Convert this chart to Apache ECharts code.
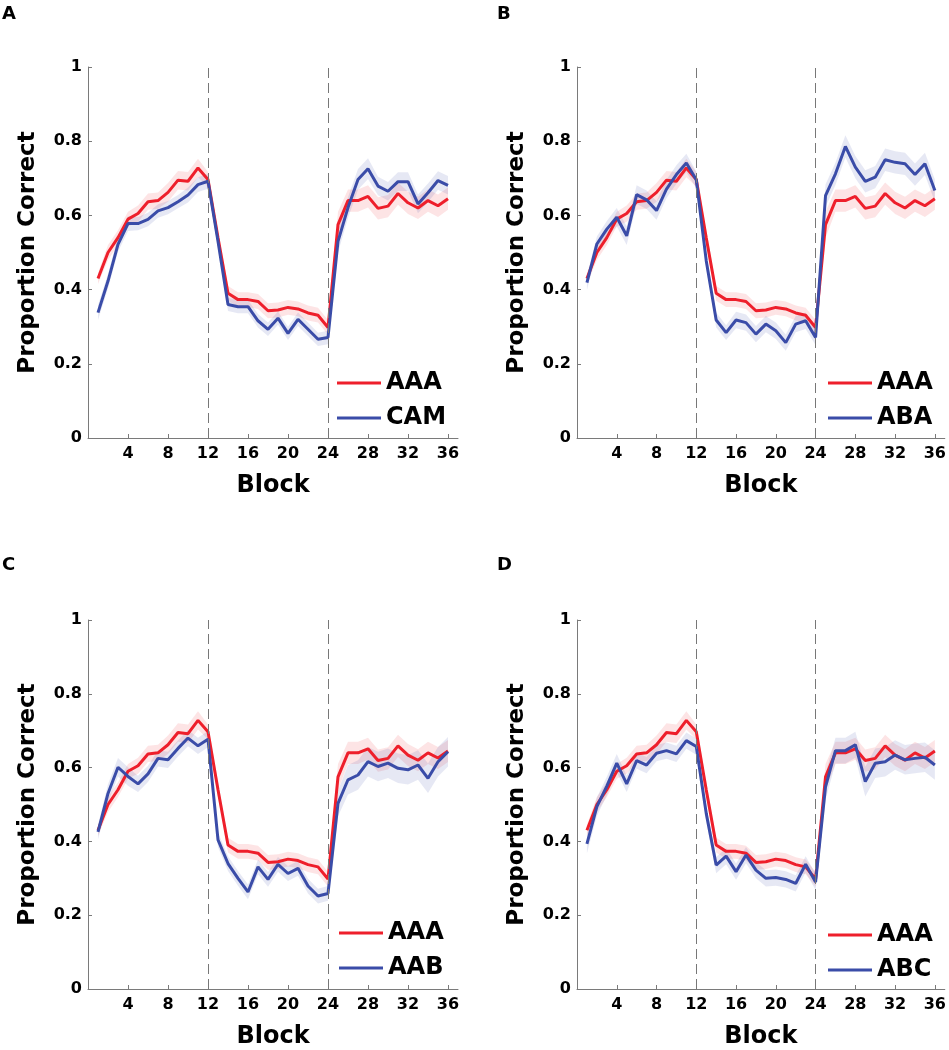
<!DOCTYPE html>
<html>
<head>
<meta charset="utf-8">
<script src="https://cdn.jsdelivr.net/npm/echarts@6/dist/echarts.min.js"></script>
<style>html,body{margin:0;padding:0;background:#fff}#c{width:949px;height:1050px}</style>
</head>
<body>
<div id="c"></div>
<script>
// ---------------- data ----------------
const blocks = [1,2,3,4,5,6,7,8,9,10,11,12,13,14,15,16,17,18,19,20,21,22,23,24,25,26,27,28,29,30,31,32,33,34,35,36];
const xTickLabels = ['4','8','12','16','20','24','28','32','36'];
const phaseBoundaries = [12, 24];

const AAA = [0.43,0.50,0.54,0.59,0.605,0.637,0.64,0.662,0.695,0.692,0.728,0.697,
             0.54,0.39,0.373,0.373,0.368,0.343,0.345,0.352,0.348,0.337,0.331,0.298,
             0.575,0.64,0.64,0.651,0.619,0.625,0.659,0.634,0.62,0.64,0.626,0.645];
const AAA_SE = [0.015,0.02,0.02,0.02,0.022,0.022,0.022,0.025,0.025,0.025,0.025,0.02,
                0.02,0.02,0.02,0.02,0.02,0.02,0.02,0.02,0.02,0.02,0.02,0.02,
                0.035,0.03,0.03,0.03,0.03,0.03,0.03,0.03,0.03,0.03,0.03,0.03];

const CAM = [0.338,0.423,0.522,0.578,0.578,0.589,0.612,0.621,0.637,0.655,0.683,0.692,
             0.53,0.36,0.354,0.354,0.316,0.293,0.323,0.282,0.32,0.293,0.266,0.271,
             0.53,0.621,0.697,0.726,0.679,0.665,0.691,0.691,0.631,0.661,0.694,0.681];
const CAM_SE = [0.02,0.02,0.02,0.02,0.018,0.018,0.018,0.018,0.018,0.02,0.02,0.02,
                0.02,0.018,0.018,0.018,0.018,0.018,0.018,0.018,0.018,0.018,0.018,0.018,
                0.03,0.028,0.028,0.028,0.025,0.025,0.025,0.025,0.025,0.025,0.025,0.025];

const ABA = [0.419,0.523,0.563,0.595,0.545,0.656,0.642,0.613,0.671,0.71,0.741,0.696,
             0.478,0.318,0.284,0.318,0.311,0.28,0.307,0.289,0.257,0.307,0.316,0.271,
             0.653,0.712,0.786,0.73,0.692,0.703,0.75,0.743,0.739,0.71,0.739,0.667];
const ABA_SE = [0.02,0.02,0.022,0.025,0.025,0.025,0.025,0.025,0.025,0.025,0.025,0.022,
                0.02,0.02,0.02,0.022,0.022,0.022,0.022,0.022,0.022,0.022,0.022,0.02,
                0.03,0.03,0.03,0.03,0.03,0.03,0.03,0.03,0.03,0.03,0.03,0.03];

const AAB = [0.426,0.53,0.601,0.576,0.556,0.583,0.625,0.621,0.652,0.68,0.659,0.677,
             0.404,0.34,0.30,0.263,0.331,0.297,0.338,0.313,0.327,0.279,0.252,0.259,
             0.503,0.567,0.58,0.616,0.603,0.612,0.598,0.594,0.607,0.571,0.616,0.643];
const AAB_SE = [0.02,0.025,0.025,0.025,0.022,0.022,0.022,0.022,0.022,0.022,0.022,0.022,
                0.02,0.02,0.02,0.02,0.02,0.02,0.02,0.02,0.02,0.02,0.02,0.02,
                0.035,0.04,0.04,0.04,0.04,0.04,0.04,0.04,0.04,0.04,0.04,0.04];

const ABC = [0.393,0.494,0.55,0.612,0.556,0.619,0.607,0.639,0.646,0.637,0.673,0.657,
             0.476,0.336,0.36,0.318,0.363,0.322,0.30,0.302,0.297,0.286,0.338,0.29,
             0.548,0.646,0.646,0.662,0.562,0.612,0.616,0.634,0.621,0.625,0.628,0.607];
const ABC_SE = [0.025,0.025,0.025,0.025,0.022,0.022,0.022,0.022,0.022,0.022,0.022,0.022,
                0.022,0.022,0.022,0.022,0.022,0.022,0.022,0.022,0.022,0.022,0.022,0.022,
                0.035,0.035,0.035,0.035,0.04,0.04,0.04,0.04,0.04,0.04,0.04,0.04];

const panelLabels = ['A','B','C','D'];
const comparisonNames = ['CAM','ABA','AAB','ABC'];
const comparisonValues = [CAM, ABA, AAB, ABC];
const comparisonSE = [CAM_SE, ABA_SE, AAB_SE, ABC_SE];

// ---------------- layout / style ----------------
const FONT = 'DejaVu Sans';
const RED = '#ee1f2b';
const BLUE = '#3a4ca8';
const RED_BAND = 'rgba(238,31,43,0.12)';
const BLUE_BAND = 'rgba(58,76,168,0.13)';
const AXIS_GRAY = '#7a7a7a';
const grids = [
  {left: 88,  top: 67,  width: 370, height: 371},
  {left: 577, top: 67,  width: 370, height: 371},
  {left: 88,  top: 620, width: 370, height: 370},
  {left: 577, top: 620, width: 370, height: 370}
];
const labelPos = [[2, 5], [497, 5], [2, 556], [497, 556]];
const legendPos = [[332, 365], [823, 365], [334, 915], [823, 917]];

const option = {
  animation: false,
  backgroundColor: '#fff',
  grid: grids.map(g => Object.assign({containLabel: false}, g)),
  xAxis: [], yAxis: [], series: [], legend: [], graphic: []
};

function pairs(vals) { return blocks.map((b, i) => [b, vals[i]]); }

function bandSeries(p, vals, se, color) {
  const rows = blocks.map((b, i) => [b, vals[i] - se[i], vals[i] + se[i]]);
  return {
    type: 'custom', xAxisIndex: p, yAxisIndex: p, silent: true, z: 1,
    data: rows, encode: {x: 0, y: [1, 2]},
    renderItem: function (params, api) {
      if (params.dataIndex !== 0) return {type: 'group', children: []};
      const top = rows.map(r => api.coord([r[0], r[2]]));
      const bot = rows.map(r => api.coord([r[0], r[1]])).reverse();
      return {type: 'polygon', shape: {points: top.concat(bot)}, style: {fill: color, stroke: null}};
    }
  };
}

for (let p = 0; p < 4; p++) {
  option.xAxis.push({
    type: 'value', gridIndex: p, min: 0, max: 37, interval: 4,
    name: 'Block', nameLocation: 'middle', nameGap: 36,
    nameTextStyle: {fontFamily: FONT, fontWeight: 'bold', fontSize: 24, color: '#000'},
    axisLine: {show: true, lineStyle: {color: AXIS_GRAY, width: 1}},
    axisTick: {show: true, inside: true, length: 4, lineStyle: {color: AXIS_GRAY}},
    axisLabel: {
      margin: 8, fontFamily: FONT, fontWeight: 'bold', fontSize: 16, color: '#000',
      showMaxLabel: false,
      formatter: v => (xTickLabels.indexOf(String(v)) >= 0 ? String(v) : '')
    },
    splitLine: {show: false}
  });
  option.yAxis.push({
    type: 'value', gridIndex: p, min: 0, max: 1, interval: 0.2,
    name: 'Proportion Correct', nameLocation: 'middle', nameGap: 48, nameRotate: 90,
    nameTextStyle: {fontFamily: FONT, fontWeight: 'bold', fontSize: 23, color: '#000'},
    axisLine: {show: true, lineStyle: {color: AXIS_GRAY, width: 1}},
    axisTick: {show: true, inside: true, length: 4, lineStyle: {color: AXIS_GRAY}},
    axisLabel: {margin: 6, fontFamily: FONT, fontWeight: 'bold', fontSize: 16, color: '#000'},
    splitLine: {show: false}
  });

  option.series.push(bandSeries(p, AAA, AAA_SE, RED_BAND));
  option.series.push(bandSeries(p, comparisonValues[p], comparisonSE[p], BLUE_BAND));

  option.series.push({
    type: 'line', name: 'AAA', xAxisIndex: p, yAxisIndex: p, data: pairs(AAA),
    symbol: 'none', lineStyle: {color: RED, width: 3}, itemStyle: {color: RED}, z: 3,
    markLine: {
      silent: true, symbol: 'none', label: {show: false},
      lineStyle: {color: '#777', width: 1, type: [10, 5]},
      data: phaseBoundaries.map(v => ({xAxis: v}))
    }
  });
  option.series.push({
    type: 'line', name: comparisonNames[p], xAxisIndex: p, yAxisIndex: p,
    data: pairs(comparisonValues[p]),
    symbol: 'none', lineStyle: {color: BLUE, width: 3}, itemStyle: {color: BLUE}, z: 4
  });

  option.legend.push({
    data: ['AAA', comparisonNames[p]], orient: 'vertical',
    left: legendPos[p][0], top: legendPos[p][1],
    icon: 'rect', itemWidth: 44, itemHeight: 3, itemGap: 9, selectedMode: false,
    textStyle: {fontFamily: FONT, fontWeight: 'bold', fontSize: 24, color: '#000', lineHeight: 26}
  });

  option.graphic.push({
    type: 'text', left: labelPos[p][0], top: labelPos[p][1],
    style: {text: panelLabels[p], font: 'bold 18px "DejaVu Sans"', fill: '#000'}
  });
}

const chart = echarts.init(document.getElementById('c'), null, {renderer: 'canvas'});
chart.setOption(option);
</script>
</body>
</html>
